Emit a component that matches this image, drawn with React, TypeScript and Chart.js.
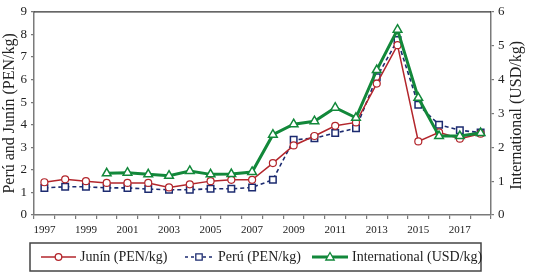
import React, { useEffect, useRef } from "react";
import { Chart, registerables } from "chart.js";

Chart.register(...registerables);

const years = [
  "1997", "1998", "1999", "2000", "2001", "2002", "2003", "2004", "2005", "2006", "2007",
  "2008", "2009", "2010", "2011", "2012", "2013", "2014", "2015", "2016", "2017", "2018",
];
const junin = [1.45, 1.58, 1.5, 1.42, 1.42, 1.42, 1.22, 1.36, 1.5, 1.56, 1.56, 2.3, 3.08, 3.5, 3.95, 4.1, 5.82, 7.52, 3.26, 3.66, 3.38, 3.6];
const peru = [1.2, 1.25, 1.25, 1.2, 1.2, 1.15, 1.12, 1.12, 1.16, 1.16, 1.22, 1.56, 3.33, 3.4, 3.63, 3.84, 6.1, 7.75, 4.88, 4.0, 3.75, 3.65];
const international = [null, null, null, 1.23, 1.25, 1.2, 1.16, 1.3, 1.2, 1.21, 1.27, 2.37, 2.68, 2.77, 3.17, 2.87, 4.28, 5.47, 3.46, 2.33, 2.33, 2.42];

const leftTitle = "Perú and Junín (PEN/kg)";
const rightTitle = "International (USD/kg)";
const legendLabels = ["Junín (PEN/kg)", "Perú (PEN/kg)", "International (USD/kg)"];

const SERIF = "'Liberation Serif', 'Times New Roman', serif";
const RED = "#b3262c";
const BLUE = "#1c2b70";
const GREEN = "#12883a";
const AXIS = "#7a7a7a";
const TEXT = "#222";

const decor = {
  id: "decor",
  afterDraw(chart: any) {
    const { ctx, chartArea: a } = chart;
    ctx.save();
    // top frame line
    ctx.strokeStyle = "#333";
    ctx.lineWidth = 1.2;
    ctx.beginPath();
    ctx.moveTo(a.left, a.top);
    ctx.lineTo(a.right, a.top);
    ctx.stroke();
    ctx.restore();

    // right axis title (reads bottom to top)
    ctx.save();
    ctx.translate(517, (a.top + a.bottom) / 2 + 2);
    ctx.rotate(-Math.PI / 2);
    ctx.font = `16px ${SERIF}`;
    ctx.fillStyle = TEXT;
    ctx.textAlign = "center";
    ctx.textBaseline = "middle";
    ctx.fillText(rightTitle, 0, 0);
    ctx.restore();

    // legend box
    ctx.save();
    const bx = 30, by = 243, bw = 451, bh = 28;
    ctx.strokeStyle = "#444";
    ctx.lineWidth = 1.5;
    ctx.strokeRect(bx, by, bw, bh);
    const cy = by + bh / 2;
    const items = [
      { x1: 41, x2: 76, tx: 80, color: RED, dash: [], lw: 1.6, marker: "circle" },
      { x1: 185, x2: 213, tx: 218, color: BLUE, dash: [3, 3], lw: 1.6, marker: "rect" },
      { x1: 312, x2: 348, tx: 352, color: GREEN, dash: [], lw: 3, marker: "triangle" },
    ];
    items.forEach((it, i) => {
      ctx.save();
      ctx.strokeStyle = it.color;
      ctx.lineWidth = it.lw;
      ctx.setLineDash(it.dash);
      ctx.beginPath();
      ctx.moveTo(it.x1, cy);
      ctx.lineTo(it.x2, cy);
      ctx.stroke();
      ctx.setLineDash([]);
      const mx = (it.x1 + it.x2) / 2;
      ctx.fillStyle = "#fff";
      ctx.lineWidth = 1.3;
      ctx.beginPath();
      if (it.marker === "circle") {
        ctx.arc(mx, cy, 3.3, 0, Math.PI * 2);
      } else if (it.marker === "rect") {
        ctx.rect(mx - 3.2, cy - 3.2, 6.4, 6.4);
      } else {
        ctx.moveTo(mx, cy - 4.5);
        ctx.lineTo(mx + 4.2, cy + 3);
        ctx.lineTo(mx - 4.2, cy + 3);
        ctx.closePath();
      }
      ctx.fill();
      ctx.stroke();
      ctx.restore();
      ctx.font = `14px ${SERIF}`;
      ctx.fillStyle = TEXT;
      ctx.textAlign = "left";
      ctx.textBaseline = "middle";
      ctx.fillText(legendLabels[i], it.tx, cy);
    });
    ctx.restore();
  },
};

export default function App() {
  const ref = useRef<HTMLCanvasElement | null>(null);

  useEffect(() => {
    document.body.style.margin = "0";
    const canvas = ref.current;
    if (!canvas) return;
    const chart = new Chart(canvas, {
      type: "line",
      data: {
        labels: years,
        datasets: [
          {
            label: legendLabels[0],
            data: junin,
            yAxisID: "y",
            borderColor: RED,
            borderWidth: 1.5,
            pointStyle: "circle",
            pointRadius: 3.5,
            pointBackgroundColor: "#fff",
            pointBorderColor: RED,
            pointBorderWidth: 1.2,
            tension: 0,
            order: 1,
          },
          {
            label: legendLabels[1],
            data: peru,
            yAxisID: "y",
            borderColor: BLUE,
            borderWidth: 1.6,
            borderDash: [4, 3],
            pointStyle: "rect",
            pointRadius: 4.6,
            pointBackgroundColor: "#fff",
            pointBorderColor: BLUE,
            pointBorderWidth: 1.5,
            tension: 0,
            order: 2,
          },
          {
            label: legendLabels[2],
            data: international,
            yAxisID: "y1",
            borderColor: GREEN,
            borderWidth: 3,
            pointStyle: "triangle",
            pointRadius: 5,
            pointBackgroundColor: "#fff",
            pointBorderColor: GREEN,
            pointBorderWidth: 1.5,
            tension: 0,
            spanGaps: false,
            order: 0,
          },
        ],
      },
      options: {
        animation: false,
        responsive: false,
        devicePixelRatio: 1,
        layout: { padding: { top: 11, bottom: 32, left: 0, right: 0 } },
        plugins: {
          legend: { display: false },
          tooltip: { enabled: false },
        },
        scales: {
          x: {
            type: "category",
            offset: true,
            grid: {
              display: true,
              drawOnChartArea: false,
              drawTicks: true,
              tickLength: 4,
              color: AXIS,
              lineWidth: 1.2,
              offset: true,
            },
            border: { display: true, color: AXIS, width: 1.5 },
            ticks: {
              autoSkip: false,
              maxRotation: 0,
              minRotation: 0,
              padding: 5,
              color: TEXT,
              font: { family: SERIF, size: 11 },
              callback: (_v: any, i: number) => (i % 2 === 0 ? years[i] : ""),
            },
            afterFit: (s: any) => {
              s.height = 27;
            },
          },
          y: {
            position: "left",
            min: 0,
            max: 9,
            grid: {
              display: true,
              drawOnChartArea: false,
              drawTicks: true,
              tickLength: 3,
              color: AXIS,
              lineWidth: 1.2,
            },
            border: { display: true, color: AXIS, width: 1.5 },
            ticks: {
              stepSize: 1,
              padding: 4,
              color: TEXT,
              font: { family: SERIF, size: 13 },
            },
            title: {
              display: true,
              text: leftTitle,
              color: TEXT,
              font: { family: SERIF, size: 16 },
              padding: { top: 0, bottom: 0 },
            },
            afterFit: (s: any) => {
              s.width = 34;
            },
          },
          y1: {
            position: "right",
            min: 0,
            max: 6,
            grid: {
              display: true,
              drawOnChartArea: false,
              drawTicks: true,
              tickLength: 3,
              color: AXIS,
              lineWidth: 1.2,
            },
            border: { display: true, color: AXIS, width: 1.5 },
            ticks: {
              stepSize: 1,
              padding: 4,
              color: TEXT,
              font: { family: SERIF, size: 13 },
            },
            afterFit: (s: any) => {
              s.width = 42;
            },
          },
        },
      },
      plugins: [decor],
    });
    return () => chart.destroy();
  }, []);

  return (
    <div style={{ width: 533, height: 274, background: "#fff" }}>
      <canvas ref={ref} width={533} height={274} style={{ display: "block", width: 533, height: 274 }} />
    </div>
  );
}
